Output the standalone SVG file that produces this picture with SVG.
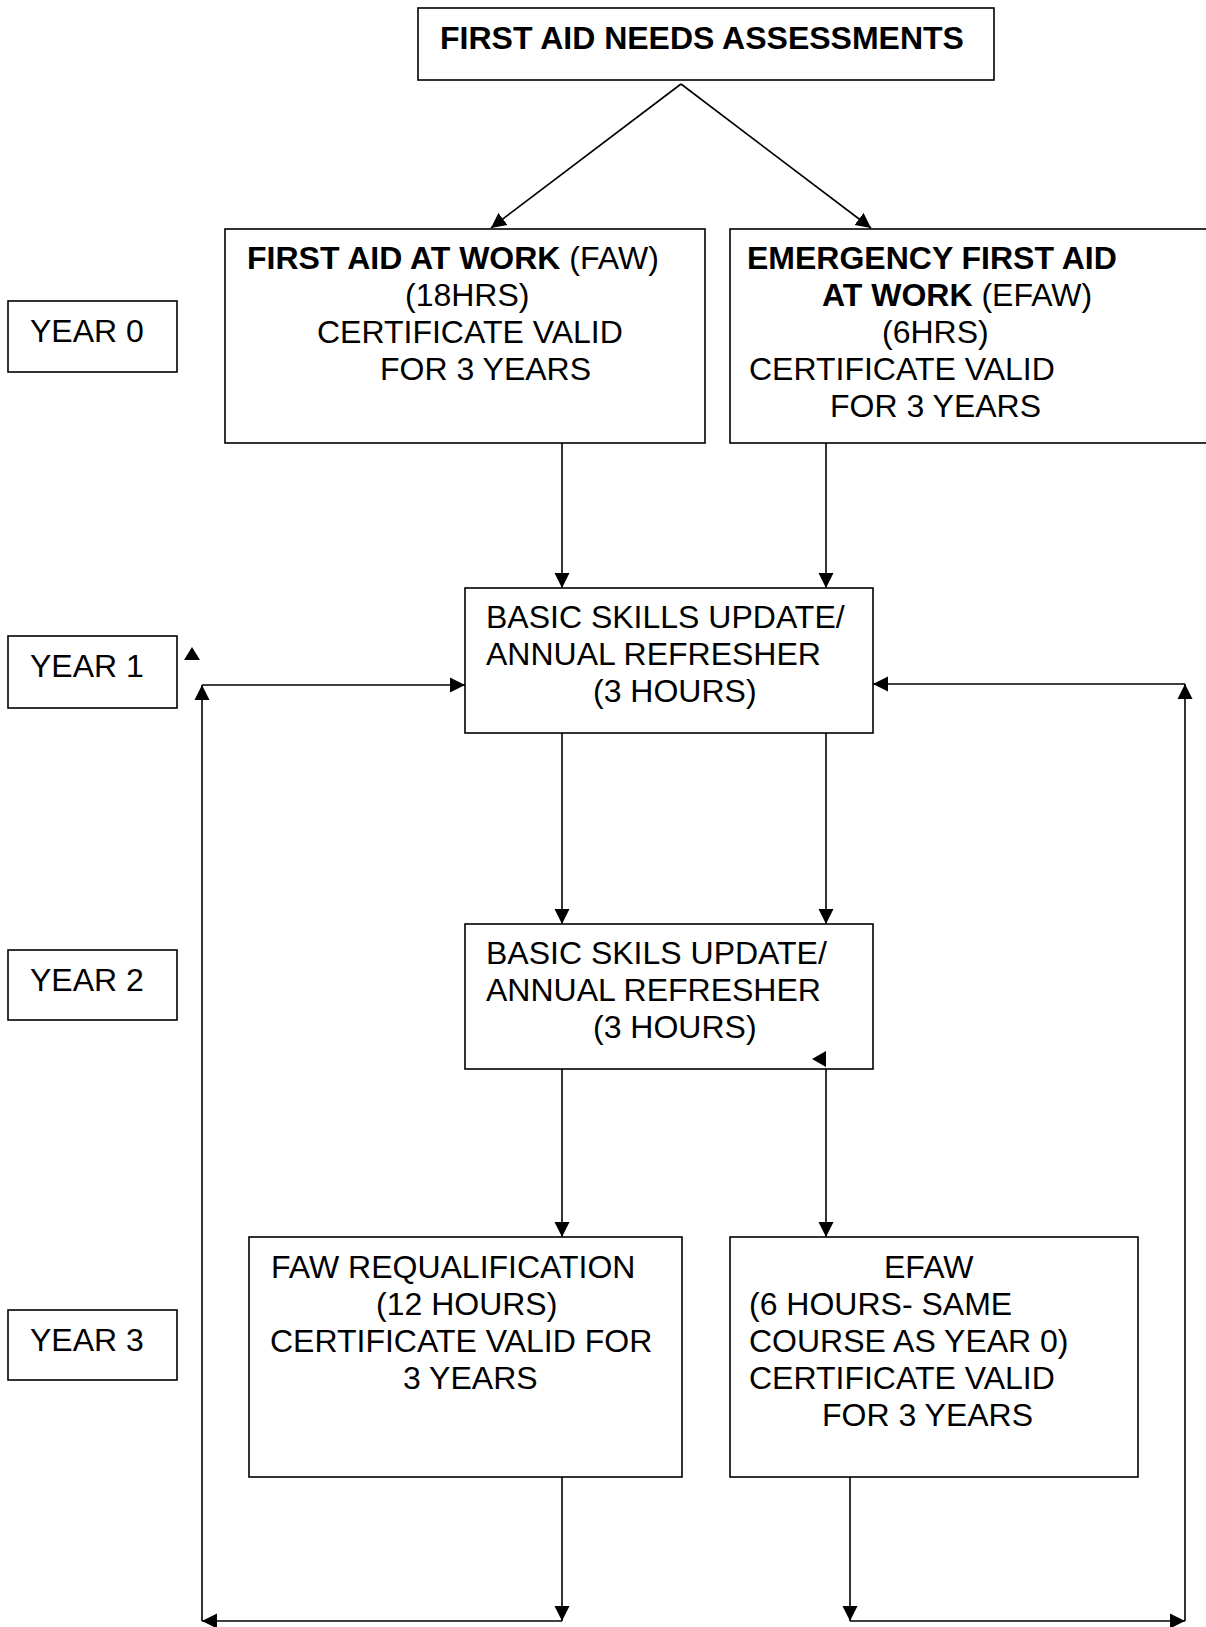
<svg xmlns="http://www.w3.org/2000/svg" width="1206" height="1627" viewBox="0 0 1206 1627">
<style>
.box{fill:#fff;stroke:#000;stroke-width:1.6}
.t{font-family:"Liberation Sans",Arial,sans-serif;font-size:32px;fill:#000}
.b{font-weight:bold}
.c{fill:none;stroke:#000;stroke-width:1.6}
.h{fill:#000;stroke:none}
</style>
<defs>
<marker id="ah" markerUnits="userSpaceOnUse" markerWidth="16" markerHeight="16" refX="15" refY="8" orient="auto" viewBox="0 0 16 16">
<path d="M0,0.5 L15,8 L0,15.5 z" fill="#000"/>
</marker>
</defs>
<rect width="1206" height="1627" fill="#fff"/>

<g id="n_top">
<rect class="box" x="418" y="8" width="576" height="72"/>
<text class="t b" x="440" y="49">FIRST AID NEEDS ASSESSMENTS</text>
</g>

<g id="n_faw">
<rect class="box" x="225" y="229" width="480" height="214"/>
<text class="t" x="247" y="269"><tspan class="b">FIRST AID AT WORK</tspan> (FAW)</text>
<text class="t" x="405" y="306">(18HRS)</text>
<text class="t" x="317" y="343">CERTIFICATE VALID</text>
<text class="t" x="380" y="380">FOR 3 YEARS</text>
</g>

<g id="n_efaw">
<rect class="box" x="730" y="229" width="490" height="214"/>
<text class="t b" x="747" y="269">EMERGENCY FIRST AID</text>
<text class="t" x="822" y="306"><tspan class="b">AT WORK</tspan> (EFAW)</text>
<text class="t" x="882" y="343">(6HRS)</text>
<text class="t" x="749" y="380">CERTIFICATE VALID</text>
<text class="t" x="830" y="417">FOR 3 YEARS</text>
</g>

<g id="n_year0">
<rect class="box" x="8" y="301" width="169" height="71"/>
<text class="t" x="30" y="342">YEAR 0</text>
</g>
<g id="n_year1">
<rect class="box" x="8" y="636" width="169" height="72"/>
<text class="t" x="30" y="677">YEAR 1</text>
</g>
<g id="n_year2">
<rect class="box" x="8" y="950" width="169" height="70"/>
<text class="t" x="30" y="991">YEAR 2</text>
</g>
<g id="n_year3">
<rect class="box" x="8" y="1310" width="169" height="70"/>
<text class="t" x="30" y="1351">YEAR 3</text>
</g>

<g id="n_bsu1">
<rect class="box" x="465" y="588" width="408" height="145"/>
<text class="t" x="486" y="628">BASIC SKILLS UPDATE/</text>
<text class="t" x="486" y="665">ANNUAL REFRESHER</text>
<text class="t" x="593" y="702">(3 HOURS)</text>
</g>

<g id="n_bsu2">
<rect class="box" x="465" y="924" width="408" height="145"/>
<text class="t" x="486" y="964">BASIC SKILS UPDATE/</text>
<text class="t" x="486" y="1001">ANNUAL REFRESHER</text>
<text class="t" x="593" y="1038">(3 HOURS)</text>
</g>

<g id="n_fawr">
<rect class="box" x="249" y="1237" width="433" height="240"/>
<text class="t" x="271" y="1278">FAW REQUALIFICATION</text>
<text class="t" x="376" y="1315">(12 HOURS)</text>
<text class="t" x="270" y="1352">CERTIFICATE VALID FOR</text>
<text class="t" x="403" y="1389">3 YEARS</text>
</g>

<g id="n_efaw3">
<rect class="box" x="730" y="1237" width="408" height="240"/>
<text class="t" x="884" y="1278">EFAW</text>
<text class="t" x="749" y="1315">(6 HOURS- SAME</text>
<text class="t" x="749" y="1352">COURSE AS YEAR 0)</text>
<text class="t" x="749" y="1389">CERTIFICATE VALID</text>
<text class="t" x="822" y="1426">FOR 3 YEARS</text>
</g>

<g id="connectors">
<path class="c" d="M681,84 L491,228" marker-end="url(#ah)"/>
<path class="c" d="M681,84 L871,228" marker-end="url(#ah)"/>
<path class="c" d="M562,443 V588" marker-end="url(#ah)"/>
<path class="c" d="M826,443 V588" marker-end="url(#ah)"/>
<path class="c" d="M562,733 V924" marker-end="url(#ah)"/>
<path class="c" d="M826,733 V924" marker-end="url(#ah)"/>
<path class="c" d="M562,1069 V1237" marker-end="url(#ah)"/>
<path class="c" d="M826,1069 V1237" marker-end="url(#ah)"/>
<polygon class="h" points="812,1059 826,1051 826,1067"/>
<path class="c" d="M562,1477 V1621" marker-end="url(#ah)"/>
<path class="c" d="M850,1477 V1621" marker-end="url(#ah)"/>
<path class="c" d="M562,1621 H202" marker-end="url(#ah)"/>
<path class="c" d="M850,1621 H1185" marker-end="url(#ah)"/>
<path class="c" d="M202,1621 V685" marker-end="url(#ah)"/>
<path class="c" d="M1185,1621 V684" marker-end="url(#ah)"/>
<path class="c" d="M202,685 H465" marker-end="url(#ah)"/>
<path class="c" d="M1185,684 H873" marker-end="url(#ah)"/>
<polygon class="h" points="184,660 192,647 200,660"/>
</g>
</svg>
